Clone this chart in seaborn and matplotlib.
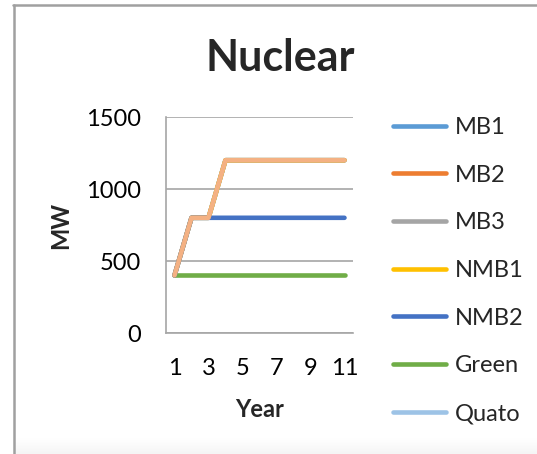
import matplotlib
matplotlib.use("Agg")
import matplotlib.pyplot as plt
import seaborn as sns
import pandas as pd
import numpy as np
from matplotlib.lines import Line2D

years = list(range(1, 12))
MB1 = [400, 800, 800, 1200, 1200, 1200, 1200, 1200, 1200, 1200, 1200]
MB2 = [400, 800, 800, 1200, 1200, 1200, 1200, 1200, 1200, 1200, 1200]
MB3 = [400, 800, 800, 1200, 1200, 1200, 1200, 1200, 1200, 1200, 1200]
NMB1 = [400, 800, 800, 1200, 1200, 1200, 1200, 1200, 1200, 1200, 1200]
NMB2 = [400, 800, 800, 800, 800, 800, 800, 800, 800, 800, 800]
Green = [400, 400, 400, 400, 400, 400, 400, 400, 400, 400, 400]
Quato = [400, 800, 800, 1200, 1200, 1200, 1200, 1200, 1200, 1200, 1200]
series_names = ["MB1", "MB2", "MB3", "NMB1", "NMB2", "Green", "Quato"]
series_vals = [MB1, MB2, MB3, NMB1, NMB2, Green, Quato]
colors = ["#5B9BD5", "#ED7D31", "#A5A5A5", "#FFC000", "#4472C4", "#70AD47", "#9DC3E6"]

sns.set_theme(style="white")
plt.rcParams["font.family"] = ["Lato", "DejaVu Sans"]

W, H = 537, 454
fig = plt.figure(figsize=(W / 100, H / 100), dpi=100)

# subtle bottom shadow (fades upward)
shadow = fig.add_axes([15 / W, 0, 1 - 15 / W, 16 / H])
grad = np.linspace(0.0, 1.0, 50).reshape(-1, 1)
shadow.imshow(grad, aspect="auto", cmap="Greys", vmin=0, vmax=12, extent=[0, 1, 0, 1])
shadow.axis("off")

# frame: left and top border lines
fig.add_artist(Line2D([14 / W, 14 / W], [0, 1 - 4.5 / H], transform=fig.transFigure,
                      color="#A0A0A0", linewidth=1.8))
fig.add_artist(Line2D([13 / W, 1], [1 - 4.5 / H, 1 - 4.5 / H], transform=fig.transFigure,
                      color="#A0A0A0", linewidth=1.8))

ax = fig.add_axes([166 / W, 1 - 333 / H, (353 - 166) / W, (333 - 117) / H])

draw_order = ["Quato", "MB1", "MB3", "NMB1", "Green", "NMB2", "MB2"]
for name in draw_order:
    i = series_names.index(name)
    col = colors[i]
    if name == "MB2":
        col = "#F4B183"
    df = pd.DataFrame({"Year": years, "MW": series_vals[i]})
    sns.lineplot(data=df, x="Year", y="MW", color=col, linewidth=3.3, ax=ax,
                 solid_capstyle="round")

ax.set_xlim(0.5, 11.5)
ax.set_ylim(0, 1500)
ax.set_yticks([0, 500, 1000, 1500])
ax.set_xticks([1, 3, 5, 7, 9, 11])
ax.grid(axis="y", color="#A6A6A6", linewidth=1.2)
ax.grid(axis="x", visible=False)
for s in ["top", "right"]:
    ax.spines[s].set_visible(False)
for s in ["left", "bottom"]:
    ax.spines[s].set_color("#A6A6A6")
    ax.spines[s].set_linewidth(1.2)
ax.tick_params(axis="y", length=6, color="#A6A6A6", width=1.2, labelsize=17, pad=12)
ax.tick_params(axis="x", length=0, labelsize=17, pad=18)
ax.set_xlabel("Year", fontsize=17, fontweight="bold", labelpad=14)
ax.set_ylabel("MW", fontsize=17, fontweight="bold", labelpad=10)
for t in ax.get_xticklabels() + ax.get_yticklabels():
    t.set_color("black")

fig.text(280 / W, 1 - 58 / H, "Nuclear", ha="center", va="center", fontsize=31, fontweight="bold")

handles = [Line2D([0], [0], color=c, linewidth=3.3, solid_capstyle="round") for c in colors]
leg = fig.legend(handles, series_names, loc="upper left", bbox_to_anchor=(393 / W, 1 - 117 / H),
                 frameon=False, fontsize=17, handlelength=2.25, handletextpad=0.35,
                 labelspacing=1.13, borderpad=0, borderaxespad=0)

fig.savefig("out.png", dpi=100)
